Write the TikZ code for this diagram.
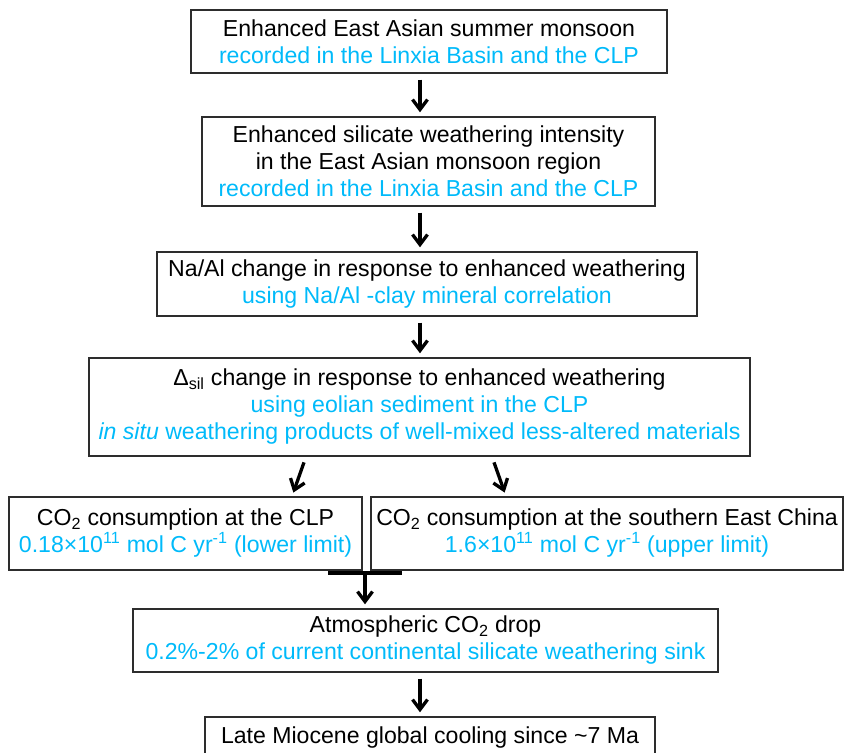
\documentclass[tikz,border=0pt]{standalone}
\usepackage{fontspec}
\setmainfont{Liberation Sans}
\usetikzlibrary{arrows.meta}
\definecolor{skyblue}{RGB}{0,186,250}
\definecolor{boxline}{RGB}{45,45,45}
\newcommand{\note}[1]{\textcolor{skyblue}{#1}}

\begin{document}
\begin{tikzpicture}[x=1pt,y=-1pt,
  box/.style={draw=boxline, line width=1.4pt, inner sep=0pt, align=center,
    font=\fontsize{23.1}{27}\selectfont},
  arr/.style={line width=3.3pt, -{Straight Barb[length=10pt,width=15pt]},
    shorten <=6pt, shorten >=4pt}]
\useasboundingbox (0,0) rectangle (845,752);
\clip (0,0) rectangle (845,752);

\node[box, minimum width=476, minimum height=63] (monsoon) at (429,41.5)
  {Enhanced East Asian summer monsoon\\
   \note{recorded in the Linxia Basin and the CLP}};
\node[box, minimum width=453, minimum height=89] (silicate) at (428.5,161.5)
  {Enhanced silicate weathering intensity\\
   in the East Asian monsoon region\\
   \note{recorded in the Linxia Basin and the CLP}};
\node[box, minimum width=540, minimum height=64] (naal) at (427,284)
  {Na/Al change in response to enhanced weathering\\
   \note{using Na/Al -clay mineral correlation}};
\node[box, minimum width=661, minimum height=98] (delta) at (419.5,407)
  {Δ\textsubscript{sil} change in response to enhanced weathering\\
   \note{using eolian sediment in the CLP}\\
   \note{\textit{in situ} weathering products of well-mixed less-altered materials}};
\node[box, minimum width=353, minimum height=73] (clp) at (185.5,533.5)
  {CO\textsubscript{2} consumption at the CLP\\
   \note{0.18×10\textsuperscript{11} mol C yr\textsuperscript{-1} (lower limit)}};
\node[box, minimum width=472, minimum height=73] (china) at (607,533.5)
  {CO\textsubscript{2} consumption at the southern East China\\
   \note{1.6×10\textsuperscript{11} mol C yr\textsuperscript{-1} (upper limit)}};
\node[box, minimum width=585, minimum height=63] (drop) at (425.5,640.5)
  {Atmospheric CO\textsubscript{2} drop\\
   \note{0.2\%-2\% of current continental silicate weathering sink}};
\node[box, minimum width=450, minimum height=42] (cooling) at (430,738)
  {Late Miocene global cooling since \textasciitilde 7 Ma};

\draw[arr] (monsoon.south -| 420,0) -- (silicate.north -| 420,0);
\draw[arr] (silicate.south -| 420,0) -- (naal.north -| 420,0);
\draw[arr] (naal.south -| 420,0) -- (delta.north -| 420,0);
\draw[arr] (delta.south -| 306,0) -- (clp.north -| 292,0);
\draw[arr] (delta.south -| 492,0) -- (china.north -| 506,0);

% both sinks join here
\coordinate (join) at (365,573);
\draw[line width=3.4pt] ([xshift=-37pt]join) -- ([xshift=37pt]join);
\draw[arr, shorten <=0pt] (join) -- (drop.north -| join);
\draw[arr] (drop.south -| 420,0) -- (cooling.north -| 420,0);
\end{tikzpicture}
\end{document}
